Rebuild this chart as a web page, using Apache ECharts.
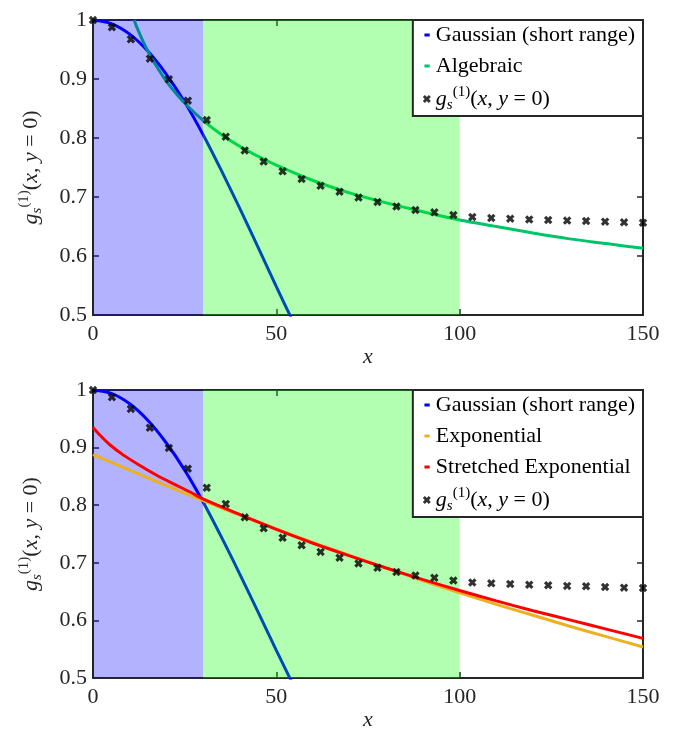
<!DOCTYPE html>
<html><head><meta charset="utf-8">
<script src="https://cdn.jsdelivr.net/npm/echarts@6/dist/echarts.min.js"></script>
<style>html,body{margin:0;padding:0;background:#fff}#c{width:677px;height:732px}</style>
</head><body><div id="c"></div>
<script>
// ---- data ----
const markerX = [0, 5.17, 10.34, 15.52, 20.69, 25.86, 31.03, 36.21, 41.38, 46.55, 51.72, 56.90, 62.07, 67.24, 72.41, 77.59, 82.76, 87.93, 93.10, 98.28, 103.45, 108.62, 113.79, 118.97, 124.14, 129.31, 134.48, 139.66, 144.83, 150];
const markerY = [1.0, 0.9876, 0.9672, 0.9345, 0.8994, 0.8633, 0.8305, 0.8023, 0.779, 0.760, 0.7435, 0.7305, 0.719, 0.709, 0.699, 0.6915, 0.684, 0.678, 0.674, 0.6695, 0.666, 0.6644, 0.6633, 0.662, 0.661, 0.660, 0.6593, 0.6582, 0.657, 0.6565];

const gaussX = [0, 5, 10, 15, 20, 25, 30, 35, 40, 45, 50, 55];
const gaussY = [1.0, 0.994, 0.976, 0.947, 0.908, 0.861, 0.806, 0.745, 0.681, 0.615, 0.548, 0.483];

const algX = [11.2, 12, 14, 16, 18, 20, 23, 26, 30, 35, 40, 45, 50, 60, 70, 80, 90, 100, 110, 120, 130, 140, 150];
const algY = [1.0, 0.987, 0.959, 0.935, 0.915, 0.896, 0.873, 0.853, 0.830, 0.806, 0.786, 0.769, 0.754, 0.728, 0.707, 0.690, 0.675, 0.661, 0.650, 0.639, 0.629, 0.621, 0.613];

const expX = [0, 10, 20, 30, 40, 50, 60, 70, 80, 90, 100, 110, 120, 130, 140, 150];
const expY = [0.888, 0.861, 0.834, 0.808, 0.783, 0.759, 0.735, 0.713, 0.691, 0.669, 0.648, 0.628, 0.609, 0.590, 0.572, 0.554];

const strX = [0, 2, 4.6, 8.3, 12.8, 17.4, 22, 26.5, 30, 40, 50, 60, 70, 80, 90, 100, 110, 120, 130, 140, 150];
const strY = [0.935, 0.921, 0.905, 0.887, 0.869, 0.852, 0.837, 0.823, 0.811, 0.784, 0.758, 0.734, 0.712, 0.691, 0.671, 0.652, 0.634, 0.617, 0.601, 0.585, 0.569];

const regionBlue = [0, 30];
const regionGreen = [30, 100];

const xTicks = {min: 0, max: 150, interval: 50};
const yTicks = {min: 0.5, max: 1, interval: 0.1};

const legendTop = ['Gaussian (short range)', 'Algebraic', 'gs'];
const legendBottom = ['Gaussian (short range)', 'Exponential', 'Stretched Exponential', 'gs'];

// ---- styling ----
const FONT = 'Liberation Serif';
const FS = 22;
const AX = '#262626';
const C_BLUE = '#0000ff', C_ALG = '#00c46a', C_EXP = '#edb120', C_STR = '#ff0000';
const XSYM = 'path://M0,2.6L2.6,0L5,2.4L7.4,0L10,2.6L7.6,5L10,7.4L7.4,10L5,7.6L2.6,10L0,7.4L2.4,5Z';
const LINEICON = 'path://M0,0L0,0ZM10,10L10,10ZM2,3.2L8.6,3.2L8.6,6.8L2,6.8Z';
const GS_RICH = '{i|g}{sub|s}{sup|(1)}{n|(}{i|x}{n|, }{i|y}{n| = 0)}';
const rich = {
  n: {fontFamily: FONT, fontSize: FS, lineHeight: 28, verticalAlign: 'middle', color: '#000'},
  i: {fontFamily: FONT, fontSize: FS, fontStyle: 'italic', lineHeight: 28, verticalAlign: 'middle', color: '#000'},
  sub: {fontFamily: FONT, fontSize: 15, fontStyle: 'italic', lineHeight: 14, verticalAlign: 'bottom', color: '#000'},
  sup: {fontFamily: FONT, fontSize: 15, lineHeight: 14, verticalAlign: 'top', color: '#000'}
};
const richAxis = JSON.parse(JSON.stringify(rich));
Object.values(richAxis).forEach(s => s.color = AX);

const zip = (xs, ys) => xs.map((x, k) => [x, ys[k]]);

const axisLine = {show: true, onZero: false, lineStyle: {color: AX, width: 2}};
const axisTick = {show: true, inside: true, length: 6, lineStyle: {color: AX, width: 1.5}};

function xAxes(gi) {
  return [
    {gridIndex: gi, type: 'value', ...xTicks, position: 'bottom', axisLine, axisTick,
     axisLabel: {margin: 8, color: AX, fontFamily: FONT, fontSize: FS},
     splitLine: {show: false}, name: 'x', nameLocation: 'middle', nameGap: 25,
     nameTextStyle: {fontFamily: FONT, fontStyle: 'italic', fontSize: FS, color: AX}},
    {gridIndex: gi, type: 'value', ...xTicks, position: 'top', axisLine, axisTick,
     axisLabel: {show: false}, splitLine: {show: false}}
  ];
}
function yAxes(gi) {
  return [
    {gridIndex: gi, type: 'value', ...yTicks, position: 'left', axisLine, axisTick,
     axisLabel: {margin: 6, color: AX, fontFamily: FONT, fontSize: FS},
     splitLine: {show: false}, name: GS_RICH, nameLocation: 'middle', nameGap: 48, nameRotate: 90,
     nameTextStyle: {fontFamily: FONT, fontSize: FS, color: AX, rich: richAxis}},
    {gridIndex: gi, type: 'value', ...yTicks, position: 'right', axisLine, axisTick,
     axisLabel: {show: false}, splitLine: {show: false}}
  ];
}

function lineSeries(name, xs, ys, color, ai, z) {
  return {name, type: 'line', xAxisIndex: ai, yAxisIndex: ai, data: zip(xs, ys),
    showSymbol: false, symbol: 'none', smooth: 0.3, z,
    lineStyle: {color, width: 3}, itemStyle: {color}, silent: true};
}
function markerSeries(ai) {
  return {name: 'gs', type: 'scatter', xAxisIndex: ai, yAxisIndex: ai, data: zip(markerX, markerY),
    symbol: XSYM, symbolSize: 8.5, itemStyle: {color: '#000'}, z: 12, silent: true};
}
function overlay(ai) {
  return {name: 'overlay' + ai, type: 'line', xAxisIndex: ai, yAxisIndex: ai, data: [[0, 0.5]],
    symbol: 'none', showSymbol: false, lineStyle: {opacity: 0}, z: 10, silent: true,
    markArea: {silent: true, z: 10, label: {show: false},
      data: [
        [{xAxis: regionBlue[0], itemStyle: {color: 'rgba(0,0,255,0.3)'}}, {xAxis: regionBlue[1]}],
        [{xAxis: regionGreen[0], itemStyle: {color: 'rgba(0,255,0,0.3)'}}, {xAxis: regionGreen[1]}]
      ]}};
}
function legend(names, top) {
  return {top, right: 34, orient: 'vertical', z: 20,
    backgroundColor: '#fff', borderColor: AX, borderWidth: 2, borderRadius: 0,
    padding: [3, 8, 3, 10], itemGap: 7, itemWidth: 8, itemHeight: 8,
    selectedMode: false,
    data: names.map(n => ({name: n, icon: n === 'gs' ? XSYM : LINEICON})),
    formatter: n => n === 'gs' ? GS_RICH : n,
    textStyle: {fontFamily: FONT, fontSize: FS, lineHeight: 24, color: '#000', rich}};
}

const chart = echarts.init(document.getElementById('c'));
chart.setOption({
  animation: false,
  backgroundColor: '#fff',
  grid: [
    {left: 93, top: 20, width: 550, height: 295},
    {left: 93, top: 390, width: 550, height: 295}
  ],
  xAxis: [...xAxes(0), ...xAxes(1)],
  yAxis: [...yAxes(0), ...yAxes(1)],
  legend: [legend(legendTop, 20), legend(legendBottom, 390)],
  series: [
    lineSeries('Gaussian (short range)', gaussX, gaussY, C_BLUE, 0, 2),
    lineSeries('Algebraic', algX, algY, C_ALG, 0, 2),
    markerSeries(0),
    overlay(0),
    lineSeries('Gaussian (short range)', gaussX, gaussY, C_BLUE, 2, 2),
    lineSeries('Exponential', expX, expY, C_EXP, 2, 11),
    lineSeries('Stretched Exponential', strX, strY, C_STR, 2, 11),
    markerSeries(2),
    overlay(2)
  ]
});
</script>
</body></html>
